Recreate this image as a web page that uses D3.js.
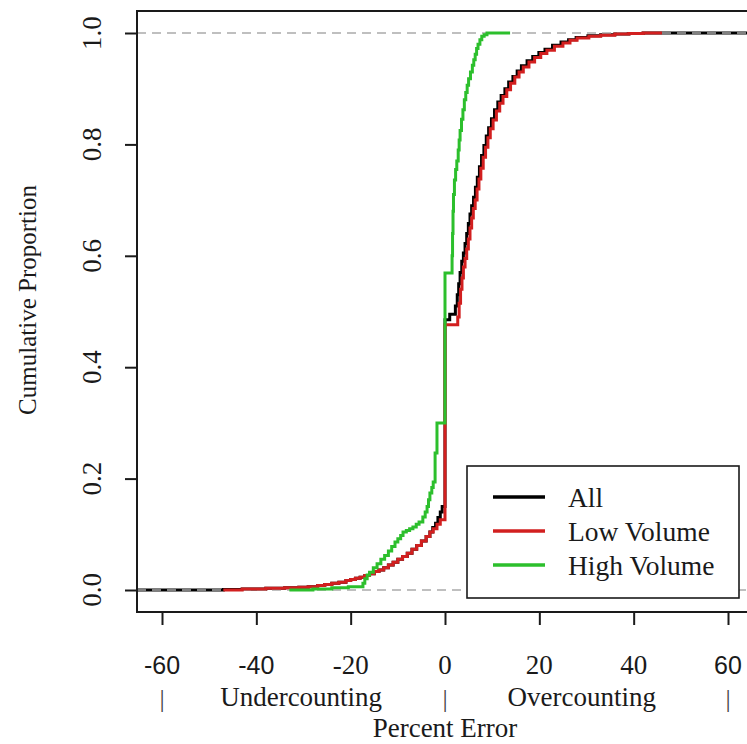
<!DOCTYPE html>
<html>
<head>
<meta charset="utf-8">
<script src="https://cdn.jsdelivr.net/npm/d3@7"></script>
<style>
  body { margin: 0; background: #fff; }
  svg { display: block; }
</style>
</head>
<body>
<div id="chart"></div>
<script>
// ECDF knots: [percent error, cumulative proportion]
var allCurve = [[-65.3,0],[-47,0.001],[-43,0.002],[-38,0.003],[-34,0.004],[-31,0.005],[-29,0.006],[-27,0.008],
  [-25.5,0.01],[-24,0.012],[-22.5,0.014],[-21,0.017],[-20,0.019],[-19,0.021],[-18,0.023],[-17,0.026],[-16,0.029],
  [-15,0.033],[-14,0.036],[-13,0.04],[-12,0.045],[-11,0.05],[-10,0.055],[-9,0.06],[-8,0.066],[-7,0.073],[-6,0.08],
  [-5,0.088],[-4,0.096],[-3.2,0.104],[-2.6,0.112],[-2,0.12],[-1.5,0.13],[-1,0.14],[-0.6,0.15],[0,0.485],
  [1,0.495],[2.2,0.51],[2.6,0.53],[2.9,0.55],[3.2,0.57],[3.55,0.59],[3.9,0.605],[4.25,0.622],[4.6,0.64],
  [4.95,0.658],[5.3,0.675],[5.65,0.69],[6.05,0.705],[6.45,0.723],[6.85,0.741],[7.3,0.76],[7.75,0.78],[8.25,0.798],
  [8.75,0.815],[9.25,0.83],[9.85,0.846],[10.5,0.862],[11.2,0.876],[11.9,0.888],[12.7,0.9],[13.5,0.912],
  [14.4,0.922],[15.3,0.932],[16.2,0.941],[17.4,0.95],[18.6,0.958],[19.9,0.965],[21.2,0.971],[22.8,0.978],
  [24.6,0.984],[26.2,0.988],[27.8,0.992],[30.3,0.995],[33,0.997],[36,0.998],[39,0.999],[42,1],[65.3,1]];

var lowCurve = [[-47,0],[-43,0.002],[-38,0.003],[-34,0.004],[-31,0.005],[-29,0.006],[-27,0.008],[-25.5,0.01],
  [-24,0.012],[-22.5,0.014],[-21,0.017],[-20,0.019],[-19,0.021],[-18,0.023],[-17,0.026],[-16,0.029],[-15,0.033],
  [-14,0.036],[-13,0.04],[-12,0.045],[-11,0.05],[-10,0.055],[-9,0.06],[-8,0.066],[-7,0.073],[-6,0.08],[-5,0.088],
  [-4,0.096],[-3.2,0.104],[-2.5,0.11],[-1.7,0.118],[-1,0.126],[0,0.476],[2.7,0.49],[3,0.515],[3.3,0.54],
  [3.6,0.56],[3.9,0.58],[4.25,0.595],[4.6,0.612],[4.95,0.63],[5.3,0.65],[5.65,0.668],[6,0.685],[6.4,0.7],
  [6.8,0.72],[7.2,0.738],[7.6,0.757],[8.1,0.777],[8.6,0.795],[9.1,0.812],[9.6,0.828],[10.2,0.844],[10.9,0.86],
  [11.6,0.874],[12.3,0.886],[13.1,0.898],[13.9,0.91],[14.8,0.921],[15.7,0.93],[16.6,0.939],[17.8,0.948],
  [19,0.956],[20.3,0.963],[21.6,0.969],[23.2,0.976],[25,0.982],[26.5,0.987],[28,0.991],[30.5,0.994],
  [33,0.996],[36,0.998],[39,0.999],[42,1],[46,1]];

var highCurve = [[-33,0],[-28,0.002],[-24,0.004],[-20.5,0.006],[-17.4,0.012],[-17,0.02],[-16.5,0.027],
  [-16,0.032],[-15.2,0.04],[-14.4,0.047],[-13.6,0.055],[-12.8,0.062],[-12,0.07],[-11.3,0.078],[-10.6,0.086],
  [-10,0.092],[-9.4,0.098],[-8.9,0.104],[-8.2,0.107],[-7.5,0.11],[-6.8,0.113],[-6.1,0.118],[-5.5,0.122],
  [-4.7,0.131],[-4.2,0.14],[-3.8,0.15],[-3.5,0.162],[-3.2,0.174],[-2.8,0.184],[-2.5,0.194],[-2.1,0.246],
  [-1.7,0.3],[0,0.569],[1.5,0.6],[1.6,0.64],[1.7,0.68],[1.8,0.71],[2,0.736],[2.25,0.755],[2.5,0.77],
  [2.8,0.79],[3,0.808],[3.2,0.825],[3.5,0.845],[3.8,0.862],[4.1,0.88],[4.4,0.893],[4.7,0.906],[5,0.918],
  [5.4,0.93],[5.8,0.942],[6.1,0.952],[6.4,0.962],[6.7,0.972],[7,0.98],[7.4,0.988],[7.8,0.994],[8.3,0.997],
  [8.9,1],[13.8,1]];

var seriesNames = ["All", "Low Volume", "High Volume"];
var seriesColors = ["#000000", "#d21f1f", "#2cbf2c"];

var xTicks = [-60, -40, -20, 0, 20, 40, 60];
var yTicks = [0, 0.2, 0.4, 0.6, 0.8, 1.0];
var sansTicks = [-60, -40, 60];   // these labels look sans-serif in the original
var regionMarks = [-60, 0, 60];
var regionLabels = [{ text: "Undercounting", at: -30.5 }, { text: "Overcounting", at: 29 }];

var W = 747, H = 744;
var plot = { left: 137, right: 753, top: 11, bottom: 612 };

var x = d3.scaleLinear().domain([-65.3, 65.3]).range([plot.left, plot.right]);
var y = d3.scaleLinear().domain([-0.0395, 1.0395]).range([plot.bottom, plot.top]);

var serif = "'Liberation Serif', 'Times New Roman', serif";
var sans = "'Liberation Sans', Arial, sans-serif";
var ink = "#1a1a1a";

var svg = d3.select("#chart").append("svg")
    .attr("width", W)
    .attr("height", H);

svg.append("defs").append("clipPath")
    .attr("id", "plotclip")
    .append("rect")
    .attr("x", plot.left)
    .attr("y", plot.top)
    .attr("width", plot.right - plot.left)
    .attr("height", plot.bottom - plot.top);

var line = d3.line()
    .x(d => x(d[0]))
    .y(d => y(d[1]))
    .curve(d3.curveStepAfter);

var g = svg.append("g").attr("clip-path", "url(#plotclip)");

// black first, then the grey 0/1 reference lines (they sit on top of it), then the subsets
g.append("path")
    .attr("d", line(allCurve))
    .attr("fill", "none")
    .attr("stroke", seriesColors[0])
    .attr("stroke-width", 3);

g.selectAll(".ref")
    .data([0, 1])
    .join("line")
    .attr("class", "ref")
    .attr("x1", plot.left)
    .attr("x2", plot.right)
    .attr("y1", d => y(d))
    .attr("y2", d => y(d))
    .attr("stroke", "#ababab")
    .attr("stroke-width", 1.6)
    .attr("stroke-dasharray", "9,6");

g.append("path")
    .attr("d", line(lowCurve))
    .attr("fill", "none")
    .attr("stroke", seriesColors[1])
    .attr("stroke-width", 3);

g.append("path")
    .attr("d", line(highCurve))
    .attr("fill", "none")
    .attr("stroke", seriesColors[2])
    .attr("stroke-width", 3);

// frame
svg.append("rect")
    .attr("x", plot.left)
    .attr("y", plot.top)
    .attr("width", plot.right - plot.left)
    .attr("height", plot.bottom - plot.top)
    .attr("fill", "none")
    .attr("stroke", ink)
    .attr("stroke-width", 2);

// x axis
var xAxis = svg.append("g")
    .attr("transform", "translate(0," + plot.bottom + ")")
    .call(d3.axisBottom(x).tickValues(xTicks).tickSize(13).tickFormat(""));
xAxis.select(".domain").remove();
xAxis.selectAll(".tick line").attr("stroke", ink).attr("stroke-width", 2);

svg.selectAll(".xlab")
    .data(xTicks)
    .join("text")
    .attr("class", "xlab")
    .attr("x", d => x(d))
    .attr("y", 674)
    .attr("text-anchor", "middle")
    .style("font-family", d => sansTicks.indexOf(d) >= 0 ? sans : serif)
    .style("font-size", d => sansTicks.indexOf(d) >= 0 ? "25px" : "27px")
    .attr("fill", ink)
    .text(d => d);

svg.selectAll(".bar")
    .data(regionMarks)
    .join("text")
    .attr("class", "bar")
    .attr("x", d => x(d))
    .attr("y", 707)
    .attr("text-anchor", "middle")
    .style("font-family", serif)
    .style("font-size", "26px")
    .attr("fill", "#444")
    .text("|");

svg.selectAll(".region")
    .data(regionLabels)
    .join("text")
    .attr("class", "region")
    .attr("x", d => x(d.at))
    .attr("y", 706)
    .attr("text-anchor", "middle")
    .style("font-family", serif)
    .style("font-size", "27px")
    .attr("fill", ink)
    .text(d => d.text);

svg.append("text")
    .attr("x", x(0))
    .attr("y", 737)
    .attr("text-anchor", "middle")
    .style("font-family", serif)
    .style("font-size", "27px")
    .attr("fill", ink)
    .text("Percent Error");

// y axis
var yAxis = svg.append("g")
    .attr("transform", "translate(" + plot.left + ",0)")
    .call(d3.axisLeft(y).tickValues(yTicks).tickSize(12).tickFormat(""));
yAxis.select(".domain").remove();
yAxis.selectAll(".tick line").attr("stroke", ink).attr("stroke-width", 2);

svg.selectAll(".ylab")
    .data(yTicks)
    .join("text")
    .attr("class", "ylab")
    .attr("transform", d => "translate(101," + y(d) + ") rotate(-90)")
    .attr("text-anchor", "middle")
    .style("font-family", serif)
    .style("font-size", "27px")
    .attr("fill", ink)
    .text(d => d3.format(".1f")(d));

svg.append("text")
    .attr("transform", "translate(36," + 300 + ") rotate(-90)")
    .attr("text-anchor", "middle")
    .style("font-family", serif)
    .style("font-size", "25px")
    .attr("fill", ink)
    .text("Cumulative Proportion");

// legend
var legend = svg.append("g");
legend.append("rect")
    .attr("x", 467)
    .attr("y", 466)
    .attr("width", 272)
    .attr("height", 132)
    .attr("fill", "#fff")
    .attr("stroke", ink)
    .attr("stroke-width", 1.6);

var items = legend.selectAll(".item")
    .data(seriesNames)
    .join("g")
    .attr("class", "item")
    .attr("transform", (d, i) => "translate(0," + (497 + i * 34) + ")");

items.append("line")
    .attr("x1", 493)
    .attr("x2", 545)
    .attr("stroke", (d, i) => seriesColors[i])
    .attr("stroke-width", 3.5);

items.append("text")
    .attr("x", 568)
    .attr("dy", "0.35em")
    .style("font-family", serif)
    .style("font-size", "27.5px")
    .attr("fill", ink)
    .text(d => d);
</script>
</body>
</html>
